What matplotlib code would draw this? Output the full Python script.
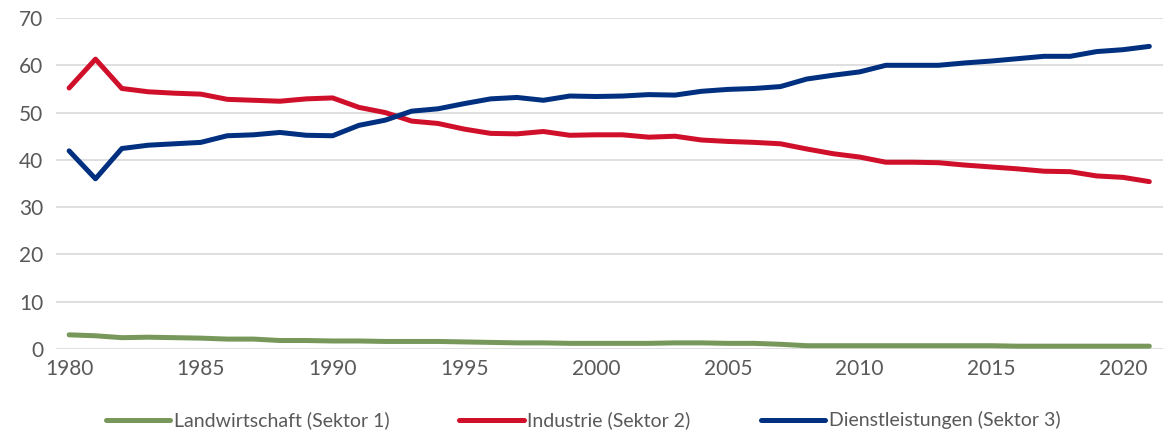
import matplotlib.pyplot as plt
import numpy as np

years = list(range(1980, 2022))

landwirtschaft = [3.0, 2.8, 2.4, 2.5, 2.4, 2.3, 2.1, 2.1, 1.8, 1.8,
                  1.7, 1.7, 1.6, 1.6, 1.6, 1.5, 1.4, 1.3, 1.3, 1.2,
                  1.2, 1.2, 1.2, 1.3, 1.3, 1.2, 1.2, 1.0, 0.7, 0.7,
                  0.7, 0.7, 0.7, 0.7, 0.7, 0.7, 0.6, 0.6, 0.6, 0.6,
                  0.6, 0.6]

industrie = [55.2, 61.3, 55.1, 54.4, 54.1, 53.9, 52.8, 52.6, 52.4, 52.9,
             53.1, 51.1, 50.0, 48.2, 47.7, 46.5, 45.6, 45.5, 46.0, 45.2,
             45.3, 45.3, 44.8, 45.0, 44.2, 43.9, 43.7, 43.4, 42.3, 41.3,
             40.6, 39.5, 39.5, 39.4, 38.9, 38.5, 38.1, 37.6, 37.5, 36.6,
             36.3, 35.4]

dienstleistungen = [41.9, 36.0, 42.4, 43.1, 43.4, 43.7, 45.1, 45.3, 45.8, 45.2,
                    45.1, 47.3, 48.4, 50.3, 50.8, 51.9, 52.9, 53.2, 52.6, 53.5,
                    53.4, 53.5, 53.8, 53.7, 54.5, 54.9, 55.1, 55.5, 57.1, 57.9,
                    58.6, 60.0, 60.0, 60.0, 60.5, 60.9, 61.4, 61.9, 61.9, 62.9,
                    63.3, 64.0]

plt.rcParams['font.family'] = ['Lato', 'DejaVu Sans']

fig = plt.figure(figsize=(11.66, 4.36), dpi=100)
ax = fig.add_axes([0.048, 0.1995, 0.949, 0.7592])

ax.plot(years, landwirtschaft, color="#77985A", lw=3.6, solid_capstyle='round',
        label="Landwirtschaft (Sektor 1)")
ax.plot(years, industrie, color="#D0102A", lw=3.6, solid_capstyle='round',
        label="Industrie (Sektor 2)")
ax.plot(years, dienstleistungen, color="#00307F", lw=3.6, solid_capstyle='round',
        label="Dienstleistungen (Sektor 3)")

ax.set_xlim(1979.5, 2021.5)
ax.set_ylim(0, 70)
ax.set_xticks(range(1980, 2021, 5))
ax.set_yticks(range(0, 71, 10))
ax.grid(True, axis='y', color="#d9d9d9", lw=1.2)
ax.set_axisbelow(True)
for s in ax.spines.values():
    s.set_visible(False)
ax.tick_params(length=0, labelsize=15, colors="#595959", pad=7)
ax.tick_params(axis='y', pad=9)

leg = fig.legend(loc='lower center', bbox_to_anchor=(0.5, -0.025), ncol=3,
                 frameon=False, fontsize=14, handlelength=3.3, handletextpad=0.2,
                 columnspacing=3.6)
for t in leg.get_texts():
    t.set_color("#595959")

fig.savefig("out.png", dpi=100)
